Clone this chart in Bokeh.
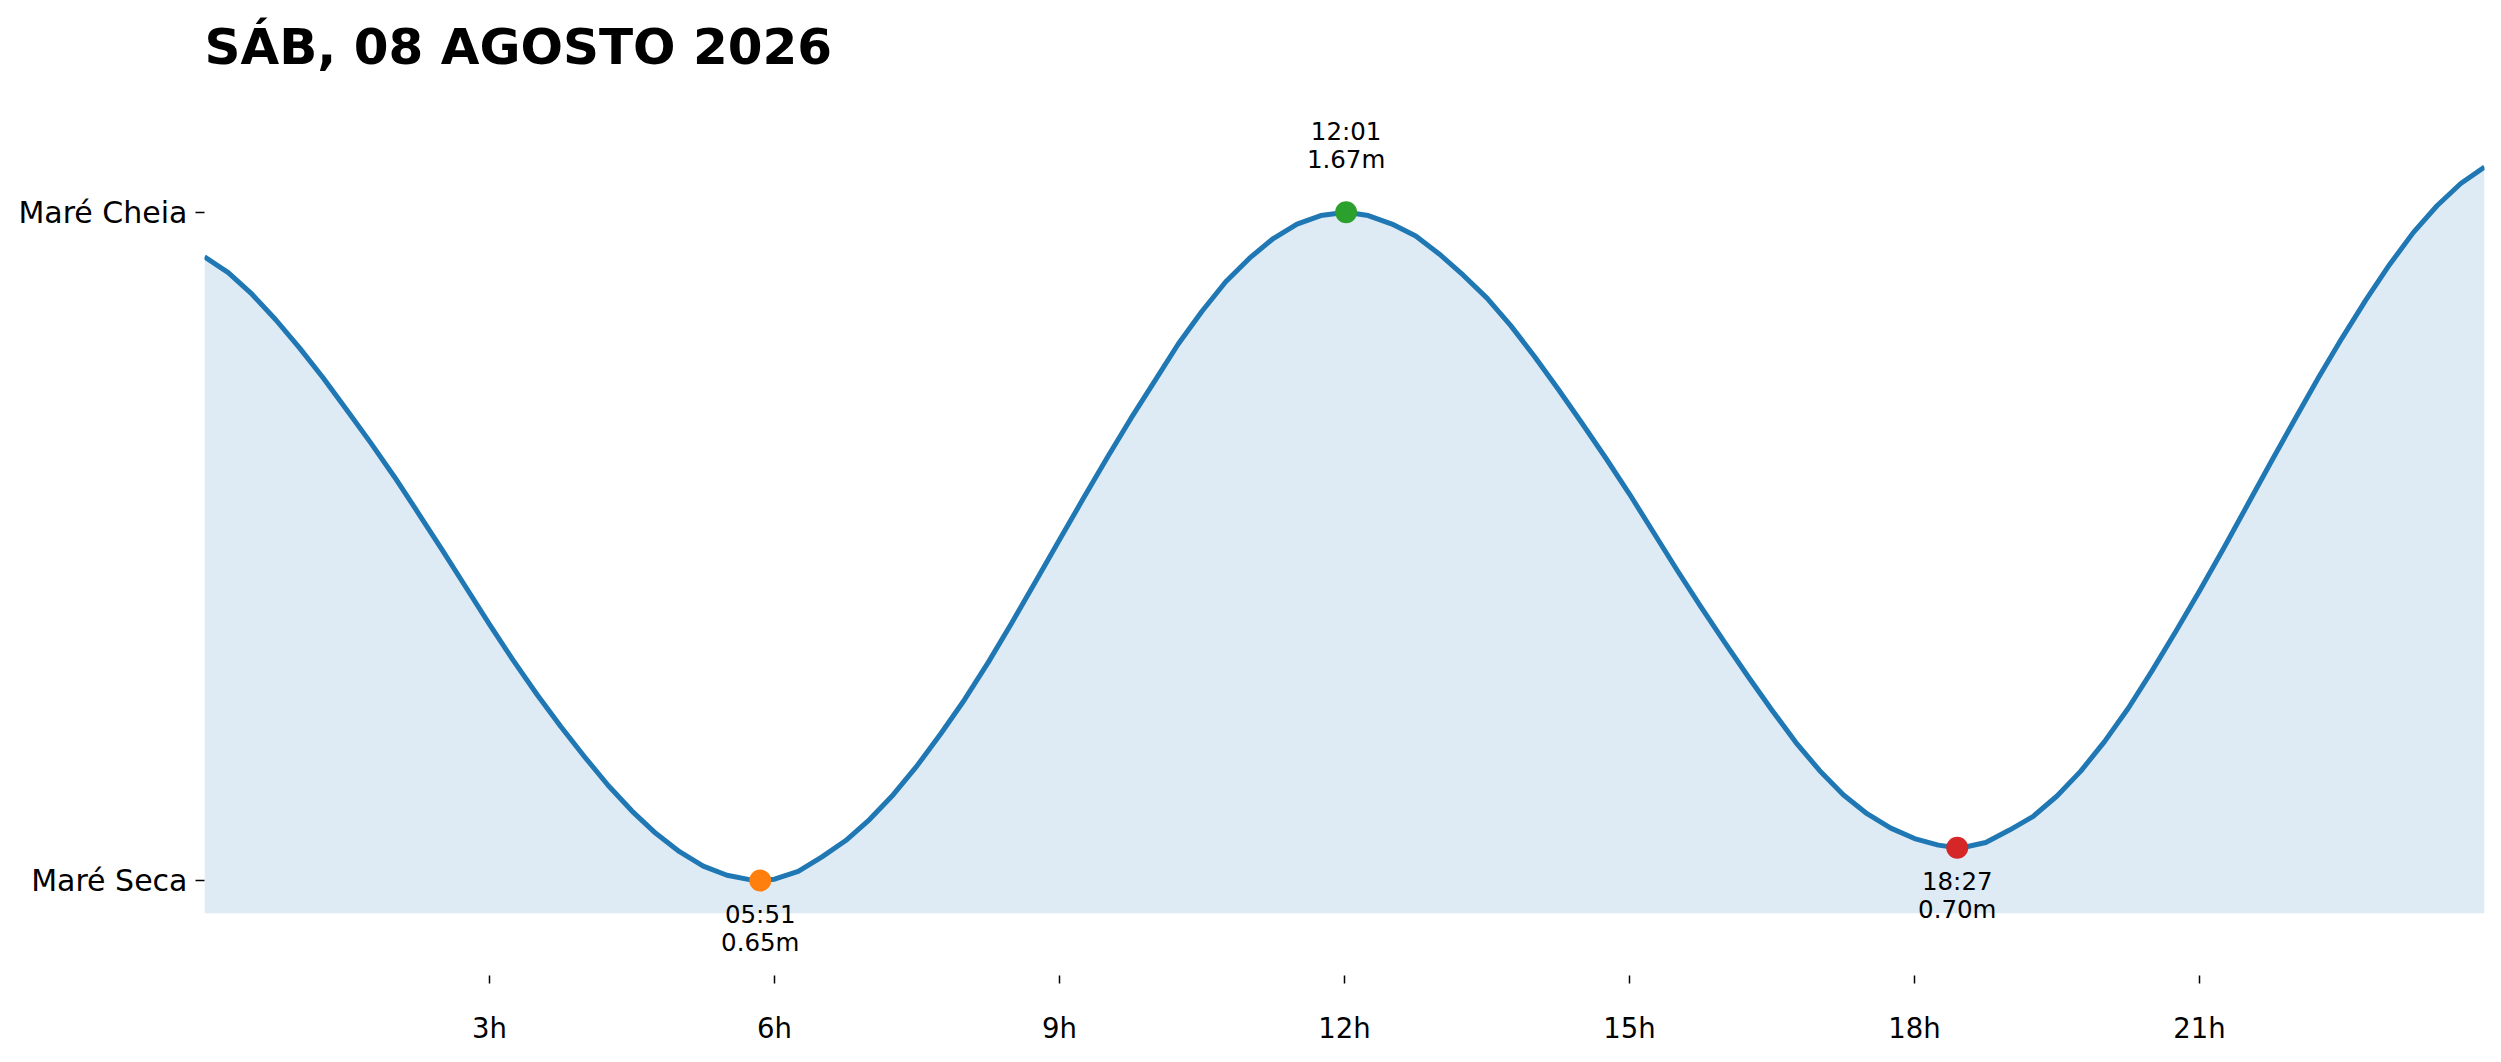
from bokeh.plotting import figure
from bokeh.models import Range1d, FixedTicker, ColumnDataSource
from bokeh.embed import file_html
from bokeh.resources import INLINE
from bokeh.core.properties import value

# tide curve (hours of the day, metres)
hours = [0, 0.25, 0.5, 0.75, 1, 1.25, 1.5, 1.75, 2, 2.25, 2.5, 2.75, 3, 3.25, 3.5, 3.75,
         4, 4.25, 4.5, 4.75, 5, 5.25, 5.5, 5.75, 5.85,
         6, 6.25, 6.5, 6.75, 7, 7.25, 7.5, 7.75, 8, 8.25, 8.5, 8.75, 9, 9.25, 9.5, 9.75,
         10, 10.25, 10.5, 10.75, 11, 11.25, 11.5, 11.75, 12.017,
         12.25, 12.5, 12.75, 13, 13.25, 13.5, 13.75, 14, 14.25, 14.5, 14.75, 15, 15.25, 15.5, 15.75,
         16, 16.25, 16.5, 16.75, 17, 17.25, 17.5, 17.75, 18, 18.25, 18.45,
         18.5, 18.75, 19, 19.25, 19.5, 19.75, 20, 20.25, 20.5, 20.75, 21, 21.25, 21.5, 21.75,
         22, 22.25, 22.5, 22.75, 23, 23.25, 23.5, 23.75, 24]
heights = [1.602, 1.578, 1.545, 1.506, 1.463, 1.417, 1.368, 1.318, 1.266, 1.211, 1.155, 1.098, 1.041, 0.986, 0.934, 0.885,
           0.839, 0.795, 0.756, 0.722, 0.694, 0.672, 0.658, 0.651, 0.650,
           0.652, 0.664, 0.686, 0.711, 0.743, 0.781, 0.825, 0.874, 0.926, 0.983, 1.044, 1.107, 1.170, 1.233, 1.295, 1.355,
           1.412, 1.469, 1.519, 1.564, 1.600, 1.630, 1.652, 1.665, 1.670,
           1.665, 1.652, 1.634, 1.606, 1.574, 1.539, 1.497, 1.450, 1.400, 1.348, 1.295, 1.240, 1.182, 1.124, 1.068,
           1.014, 0.961, 0.910, 0.861, 0.818, 0.781, 0.752, 0.730, 0.714, 0.704, 0.700,
           0.700, 0.708, 0.727, 0.748, 0.779, 0.817, 0.862, 0.913, 0.970, 1.030, 1.092, 1.156, 1.222, 1.288,
           1.353, 1.417, 1.478, 1.536, 1.590, 1.639, 1.680, 1.714, 1.739]

# extremes of the day
ext_hours = [5.85, 12.017, 18.45]
ext_heights = [0.65, 1.67, 0.70]
ext_kind = ["low", "high", "low"]
ext_time_labels = ["05:51", "12:01", "18:27"]
ext_colors = ["#ff7f0e", "#2ca02c", "#d62728"]

x_ticks = [3, 6, 9, 12, 15, 18, 21]
x_tick_labels = ["3h", "6h", "9h", "12h", "15h", "18h", "21h"]
y_ticks = [0.65, 1.67]
y_tick_labels = ["Maré Seca", "Maré Cheia"]

title = "SÁB, 08 AGOSTO 2026"
FILL_BASE = 0.60

p = figure(width=2485, height=1046, x_range=Range1d(0, 24), y_range=Range1d(0.505, 1.859),
           output_backend="svg", toolbar_location=None,
           min_border_left=204, min_border_right=1, min_border_top=88, min_border_bottom=69)
p.background_fill_color = "white"
p.border_fill_color = "white"
p.outline_line_color = None
p.grid.grid_line_color = None

p.title.text = title
p.title.text_font = "DejaVu Sans"
p.title.text_font_size = "50px"
p.title.text_font_style = "bold"
p.title.text_color = "black"
p.title.align = "left"
p.title.standoff = 25

p.varea(x=hours, y1=[FILL_BASE] * len(hours), y2=heights, fill_color="#1f77b4", fill_alpha=0.15)
p.line(hours, heights, line_color="#1f77b4", line_width=5, line_join="round")

p.scatter(ext_hours, ext_heights, size=22, fill_color=ext_colors, line_color=None, marker="circle")


def pick(seq, kind):
    return [s for s, k in zip(seq, ext_kind) if k == kind]


lows = ColumnDataSource(dict(x=pick(ext_hours, "low"), y=pick(ext_heights, "low"),
                             t=pick(ext_time_labels, "low"),
                             m=["%.2fm" % v for v in pick(ext_heights, "low")]))
highs = ColumnDataSource(dict(x=pick(ext_hours, "high"), y=pick(ext_heights, "high"),
                              t=pick(ext_time_labels, "high"),
                              m=["%.2fm" % v for v in pick(ext_heights, "high")]))

txt = dict(text_font=value("DejaVu Sans"), text_font_size="24.5px", text_color="black",
           text_align="center", text_baseline="middle")
p.text(x="x", y="y", text="t", source=lows, y_offset=34, **txt)
p.text(x="x", y="y", text="m", source=lows, y_offset=62, **txt)
p.text(x="x", y="y", text="t", source=highs, y_offset=-81, **txt)
p.text(x="x", y="y", text="m", source=highs, y_offset=-53, **txt)

p.xaxis.ticker = FixedTicker(ticks=x_ticks)
p.xaxis.major_label_overrides = dict(zip(x_ticks, x_tick_labels))
p.yaxis.ticker = FixedTicker(ticks=y_ticks)
p.yaxis.major_label_overrides = dict(zip(y_ticks, y_tick_labels))

p.axis.axis_line_color = None
p.axis.minor_tick_line_color = None
p.axis.major_tick_line_color = "black"
p.axis.major_tick_line_width = 1.5
p.axis.major_tick_in = 0
p.axis.major_label_text_color = "black"
p.axis.major_label_text_font = "DejaVu Sans"
p.xaxis.major_tick_out = 8
p.xaxis.major_label_standoff = 28
p.xaxis.major_label_text_font_size = "27.5px"
p.yaxis.major_tick_out = 9
p.yaxis.major_label_standoff = 8
p.yaxis.major_label_text_font_size = "30px"

open("out.html", "w").write(file_html(p, INLINE))
